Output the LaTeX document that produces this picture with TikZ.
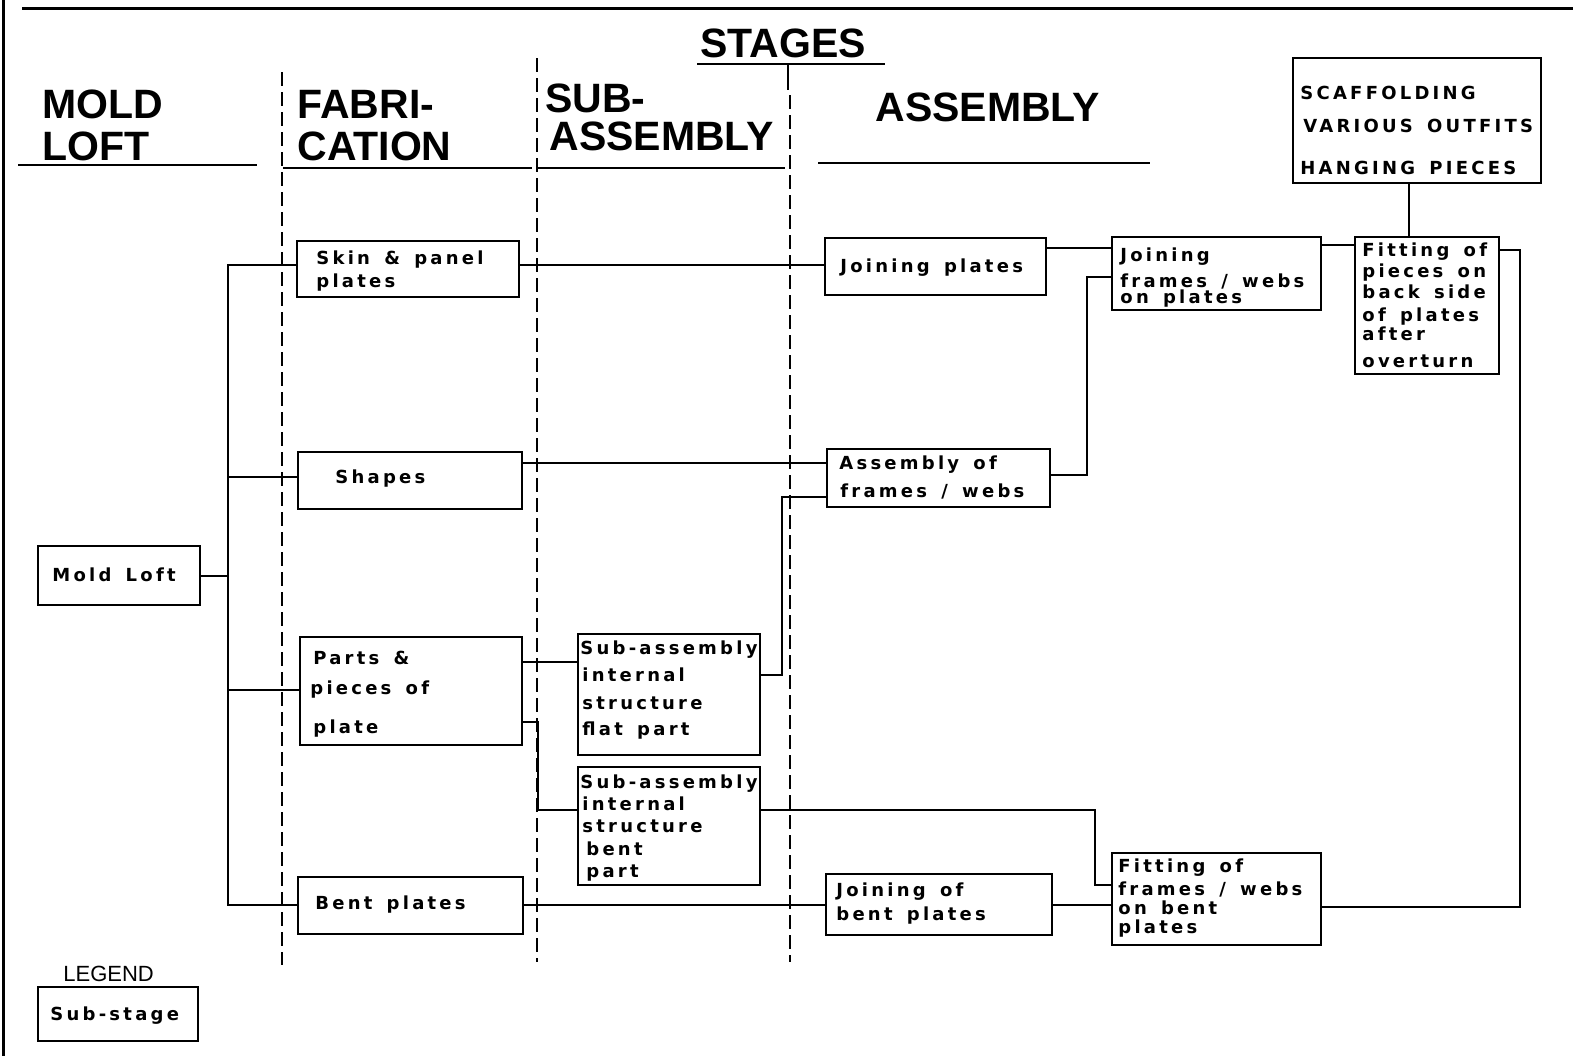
\documentclass[tikz,border=0pt]{standalone}
\usepackage{fontspec}
\setmainfont{Liberation Sans}
\newfontfamily\bxf{DejaVu Sans}[LetterSpace=18,WordSpace=1.5]
\usetikzlibrary{fit}
\begin{document}
\begin{tikzpicture}[x=0.5pt,y=-0.5pt,
  box/.style={draw, line width=1.2pt, inner sep=0pt, rectangle},
  conn/.style={line width=1pt},
  sepline/.style={line width=1pt, dash pattern=on 7pt off 3pt},
  txt/.style={font=\bxf\bfseries\fontsize{9}{11}\selectfont, inner sep=0pt, anchor=base west},
  head/.style={font=\bfseries\fontsize{20.5}{24}\selectfont, inner sep=0pt, anchor=base west},
  uline/.style={line width=1.3pt}]
\useasboundingbox (0,0) rectangle (1573,1056);
% frame
\draw[line width=1.5pt] (22,8) -- (1573,8);
\draw[line width=1.5pt] (3,0) -- (3,1056);
% headings
\node[head] (hstages) at (700,57) {STAGES};
\draw[uline] (697,64) -- (885,64);
\draw[conn] (788,64) -- (788,90);
\node[head] (hmold1) at (42,118) {MOLD};
\node[head] (hmold2) at (42,160) {LOFT};
\draw[uline] (18,165) -- (257,165);
\node[head] (hfab1) at (297,118) {FABRI-};
\node[head] (hfab2) at (297,160) {CATION};
\draw[uline] (283,168) -- (532,168);
\node[head] (hsub1) at (545,112) {SUB-};
\node[head] (hsub2) at (549,150) {ASSEMBLY};
\draw[uline] (537,168) -- (785,168);
\node[head] (hasm) at (875,121) {ASSEMBLY};
\draw[uline] (818,163) -- (1150,163);
% stage separators
\draw[sepline] (282,72) -- (282,965);
\draw[sepline] (537,58) -- (537,962);
\draw[sepline] (790,95) -- (790,962);
% boxes
\node[box, fit={(38,546) (200,605)}] (mold) {};
\node[box, fit={(297,241) (519,297)}] (skin) {};
\node[box, fit={(298,452) (522,509)}] (shapes) {};
\node[box, fit={(300,637) (522,745)}] (parts) {};
\node[box, fit={(298,877) (523,934)}] (bent) {};
\node[box, fit={(578,634) (760,755)}] (subflat) {};
\node[box, fit={(578,767) (760,885)}] (subbent) {};
\node[box, fit={(825,238) (1046,295)}] (jplates) {};
\node[box, fit={(827,449) (1050,507)}] (asm) {};
\node[box, fit={(826,874) (1052,935)}] (jbent) {};
\node[box, fit={(1112,237) (1321,310)}] (jframes) {};
\node[box, fit={(1355,237) (1499,374)}] (fitpieces) {};
\node[box, fit={(1112,853) (1321,945)}] (fitbent) {};
\node[box, fit={(1293,58) (1541,183)}] (scaf) {};
\node[box, fit={(38,987) (198,1041)}] (legendbox) {};
% box texts
\node[txt] (tmold) at (52,581) {Mold Loft};
\node[txt] (tskin1) at (316,264) {Skin \& panel};
\node[txt] (tskin2) at (316,287) {plates};
\node[txt] (tshapes) at (335,483) {Shapes};
\node[txt] (tparts1) at (313,664) {Parts \&};
\node[txt] (tparts2) at (310,694) {pieces of};
\node[txt] (tparts3) at (313,733) {plate};
\node[txt] (tbent) at (315,909) {Bent plates};
\node[txt] (tsf1) at (580,654) {Sub-assembly};
\node[txt] (tsf2) at (582,681) {internal};
\node[txt] (tsf3) at (582,709) {structure};
\node[txt] (tsf4) at (582,735) {flat part};
\node[txt] (tsb1) at (580,788) {Sub-assembly};
\node[txt] (tsb2) at (582,810) {internal};
\node[txt] (tsb3) at (582,832) {structure};
\node[txt] (tsb4) at (586,855) {bent};
\node[txt] (tsb5) at (586,877) {part};
\node[txt] (tjp) at (840,272) {Joining plates};
\node[txt] (tasm1) at (839,469) {Assembly of};
\node[txt] (tasm2) at (840,497) {frames / webs};
\node[txt] (tjb1) at (836,896) {Joining of};
\node[txt] (tjb2) at (836,920) {bent plates};
\node[txt] (tjf1) at (1120,261) {Joining};
\node[txt] (tjf2) at (1120,287) {frames / webs};
\node[txt] (tjf3) at (1120,303) {on plates};
\node[txt] (tfp1) at (1362,256) {Fitting of};
\node[txt] (tfp2) at (1362,277) {pieces on};
\node[txt] (tfp3) at (1362,298) {back side};
\node[txt] (tfp4) at (1362,321) {of plates};
\node[txt] (tfp5) at (1362,340) {after};
\node[txt] (tfp6) at (1362,367) {overturn};
\node[txt] (tfb1) at (1118,872) {Fitting of};
\node[txt] (tfb2) at (1118,895) {frames / webs};
\node[txt] (tfb3) at (1118,914) {on bent};
\node[txt] (tfb4) at (1118,933) {plates};
\node[txt] (tsc1) at (1300,99) {SCAFFOLDING};
\node[txt] (tsc2) at (1303,132) {VARIOUS OUTFITS};
\node[txt] (tsc3) at (1300,174) {HANGING PIECES};
\node[inner sep=0pt, anchor=base west, font=\fontsize{11}{13}\selectfont] (tlegend) at (63,981) {LEGEND};
\node[txt] (tsubstage) at (50,1020) {Sub-stage};
% helper coordinates
\foreach \v in {245,248,250,265,277,463,475,477,497,662,675,690,722,810,885,905,907}
  \coordinate (r\v) at (0,\v);
\coordinate (jA) at (228,0);
\coordinate (jB) at (538,0);
\coordinate (jC) at (782,0);
\coordinate (jD) at (1095,0);
\coordinate (jE) at (1520,0);
\coordinate (jF) at (1087,0);
\coordinate (jG) at (1409,0);
% connectors
\draw[conn] (mold.east) -- (mold.east -| jA);
\draw[conn] (skin.west |- r265) -- (jA |- r265) -- (jA |- r905) -- (bent.west |- r905);
\draw[conn] (shapes.west |- r477) -- (jA |- r477);
\draw[conn] (parts.west |- r690) -- (jA |- r690);
\draw[conn] (skin.east |- r265) -- (jplates.west |- r265);
\draw[conn] (shapes.east |- r463) -- (asm.west |- r463);
\draw[conn] (bent.east |- r905) -- (jbent.west |- r905);
\draw[conn] (parts.east |- r662) -- (subflat.west |- r662);
\draw[conn] (parts.east |- r722) -- (jB |- r722) -- (jB |- r810) -- (subbent.west |- r810);
\draw[conn] (subflat.east |- r675) -- (jC |- r675) -- (jC |- r497) -- (asm.west |- r497);
\draw[conn] (subbent.east |- r810) -- (jD |- r810) -- (jD |- r885) -- (fitbent.west |- r885);
\draw[conn] (jbent.east |- r905) -- (fitbent.west |- r905);
\draw[conn] (fitbent.east |- r907) -- (jE |- r907) -- (jE |- r250) -- (fitpieces.east |- r250);
\draw[conn] (jplates.east |- r248) -- (jframes.west |- r248);
\draw[conn] (asm.east |- r475) -- (jF |- r475) -- (jF |- r277) -- (jframes.west |- r277);
\draw[conn] (jframes.east |- r245) -- (fitpieces.west |- r245);
\draw[conn] (scaf.south -| jG) -- (fitpieces.north -| jG);
\end{tikzpicture}
\end{document}
